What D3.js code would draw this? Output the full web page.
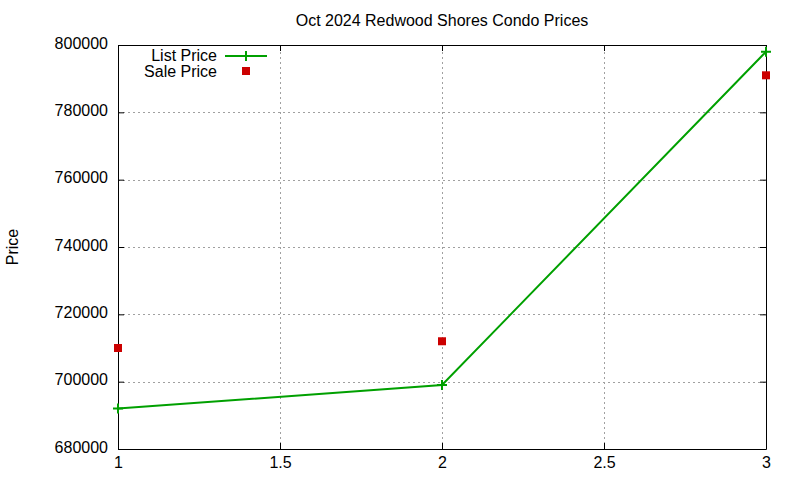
<!DOCTYPE html>
<html>
<head>
<meta charset="utf-8">
<script src="https://cdn.jsdelivr.net/npm/d3@7"></script>
<style>
  body { margin: 0; background: #fff; }
  text { font-family: "Liberation Sans", Arial, sans-serif; }
</style>
</head>
<body>
<svg id="chart"></svg>
<script>
let width = 800;
let height = 480;

let weeks = [1, 2, 3];
let listPrice = [692000, 699000, 798000];
let salePrice = [710000, 712000, 791000];
let xTicks = [1, 1.5, 2, 2.5, 3];
let yTicks = [680000, 700000, 720000, 740000, 760000, 780000, 800000];

let margin = {left: 118, right: 34, top: 45, bottom: 31};

let svg = d3.select('#chart')
    .attr('width', width)
    .attr('height', height);

let x = d3.scaleLinear().domain([1, 3]).range([margin.left, width - margin.right]);
let y = d3.scaleLinear().domain([680000, 800000]).range([height - margin.bottom, margin.top]);

let x0 = x.range()[0], x1 = x.range()[1];
let y0 = y.range()[0], y1 = y.range()[1];

// grid
let grid = svg.append('g')
    .attr('stroke', '#a0a0a0')
    .attr('stroke-width', 1)
    .attr('stroke-dasharray', '2,3');

grid.selectAll('.gy')
    .data(yTicks.slice(1, -1))
    .enter()
    .append('line')
    .attr('x1', x0).attr('x2', x1)
    .attr('y1', d => Math.round(y(d)) + 0.5)
    .attr('y2', d => Math.round(y(d)) + 0.5);

grid.selectAll('.gx')
    .data(xTicks.slice(1, -1))
    .enter()
    .append('line')
    .attr('y1', y0).attr('y2', y1)
    .attr('x1', d => Math.round(x(d)) + 0.5)
    .attr('x2', d => Math.round(x(d)) + 0.5);

// axes with inward ticks
let axisLeft = d3.axisLeft(y).tickValues(yTicks).tickSizeInner(-6).tickSizeOuter(0).tickPadding(10).tickFormat(d3.format('d'));
let axisRight = d3.axisRight(y).tickValues(yTicks).tickSizeInner(-6).tickSizeOuter(0).tickFormat('');
let axisBottom = d3.axisBottom(x).tickValues(xTicks).tickSizeInner(-6).tickSizeOuter(0).tickPadding(8).tickFormat(d3.format('~g'));
let axisTop = d3.axisTop(x).tickValues(xTicks).tickSizeInner(-6).tickSizeOuter(0).tickFormat('');

function styleAxis(g) {
    g.selectAll('path,line').attr('stroke', '#000');
    g.selectAll('text').attr('fill', '#000').style('font-size', '16px').style('font-family', '"Liberation Sans", Arial, sans-serif');
}

svg.append('g').attr('transform', 'translate(' + x0 + ',0)').call(axisLeft).call(styleAxis)
    .selectAll('text').attr('dy', '0.19em');
svg.append('g').attr('transform', 'translate(' + x1 + ',0)').call(axisRight).call(styleAxis);
svg.append('g').attr('transform', 'translate(0,' + y0 + ')').call(axisBottom).call(styleAxis);
svg.append('g').attr('transform', 'translate(0,' + y1 + ')').call(axisTop).call(styleAxis);

// list price line
let line = d3.line()
    .x((d, i) => x(weeks[i]))
    .y(d => y(d));

svg.append('path')
    .datum(listPrice)
    .attr('fill', 'none')
    .attr('stroke', '#00a000')
    .attr('stroke-width', 2)
    .attr('d', line);

function plus(g, cx, cy) {
    g.append('path')
        .attr('d', 'M' + (cx - 5) + ',' + cy + 'H' + (cx + 5) + 'M' + cx + ',' + (cy - 5) + 'V' + (cy + 5))
        .attr('stroke', '#00a000')
        .attr('stroke-width', 2)
        .attr('fill', 'none');
}

let marks = svg.append('g');
listPrice.forEach((d, i) => plus(marks, x(weeks[i]), y(d)));

// sale price points
svg.selectAll('.sale')
    .data(salePrice)
    .enter()
    .append('rect')
    .attr('x', (d, i) => x(weeks[i]) - 4)
    .attr('y', d => y(d) - 4)
    .attr('width', 8)
    .attr('height', 8)
    .attr('fill', '#cc0000');

// legend
let legend = svg.append('g');
legend.append('text')
    .attr('x', 217).attr('y', 61)
    .attr('text-anchor', 'end')
    .style('font-size', '16px')
    .text('List Price');
legend.append('line')
    .attr('x1', 225).attr('x2', 267)
    .attr('y1', 56).attr('y2', 56)
    .attr('stroke', '#00a000')
    .attr('stroke-width', 2);
plus(legend, 246, 56);
legend.append('text')
    .attr('x', 217).attr('y', 77)
    .attr('text-anchor', 'end')
    .style('font-size', '16px')
    .text('Sale Price');
legend.append('rect')
    .attr('x', 242).attr('y', 67)
    .attr('width', 8).attr('height', 8)
    .attr('fill', '#cc0000');

// title and y label
svg.append('text')
    .attr('x', (x0 + x1) / 2)
    .attr('y', 26)
    .attr('text-anchor', 'middle')
    .style('font-size', '16px')
    .text('Oct 2024 Redwood Shores Condo Prices');

svg.append('text')
    .attr('transform', 'translate(18,' + ((y0 + y1) / 2) + ') rotate(-90)')
    .attr('text-anchor', 'middle')
    .style('font-size', '16px')
    .text('Price');
</script>
</body>
</html>
